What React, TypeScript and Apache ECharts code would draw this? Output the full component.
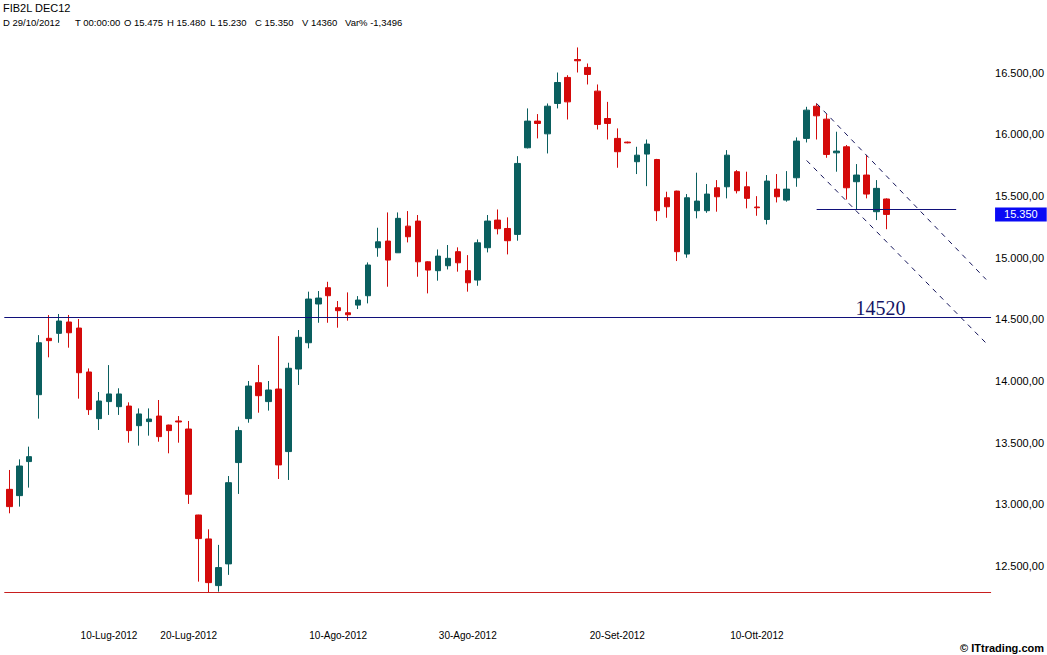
import React, { useEffect, useRef } from 'react';
import * as echarts from 'echarts';

const categories = [
  '26-Giu-2012', '27-Giu-2012', '28-Giu-2012', '29-Giu-2012',
  '02-Lug-2012', '03-Lug-2012', '04-Lug-2012', '05-Lug-2012', '06-Lug-2012',
  '09-Lug-2012', '10-Lug-2012', '11-Lug-2012', '12-Lug-2012', '13-Lug-2012',
  '16-Lug-2012', '17-Lug-2012', '18-Lug-2012', '19-Lug-2012', '20-Lug-2012',
  '23-Lug-2012', '24-Lug-2012', '25-Lug-2012', '26-Lug-2012', '27-Lug-2012',
  '30-Lug-2012', '31-Lug-2012', '01-Ago-2012', '02-Ago-2012', '03-Ago-2012',
  '06-Ago-2012', '07-Ago-2012', '08-Ago-2012', '09-Ago-2012', '10-Ago-2012',
  '13-Ago-2012', '14-Ago-2012', '16-Ago-2012', '17-Ago-2012',
  '20-Ago-2012', '21-Ago-2012', '22-Ago-2012', '23-Ago-2012', '24-Ago-2012',
  '27-Ago-2012', '28-Ago-2012', '29-Ago-2012', '30-Ago-2012', '31-Ago-2012',
  '03-Set-2012', '04-Set-2012', '05-Set-2012', '06-Set-2012', '07-Set-2012',
  '10-Set-2012', '11-Set-2012', '12-Set-2012', '13-Set-2012', '14-Set-2012',
  '17-Set-2012', '18-Set-2012', '19-Set-2012', '20-Set-2012', '21-Set-2012',
  '24-Set-2012', '25-Set-2012', '26-Set-2012', '27-Set-2012', '28-Set-2012',
  '01-Ott-2012', '02-Ott-2012', '03-Ott-2012', '04-Ott-2012', '05-Ott-2012',
  '08-Ott-2012', '09-Ott-2012', '10-Ott-2012', '11-Ott-2012', '12-Ott-2012',
  '15-Ott-2012', '16-Ott-2012', '17-Ott-2012', '18-Ott-2012', '19-Ott-2012',
  '22-Ott-2012', '23-Ott-2012', '24-Ott-2012', '25-Ott-2012', '26-Ott-2012',
  '29-Ott-2012',
  // future sessions (empty space on the right of the chart)
  '30-Ott-2012', '31-Ott-2012', '01-Nov-2012', '02-Nov-2012', '05-Nov-2012',
  '06-Nov-2012', '07-Nov-2012', '08-Nov-2012', '09-Nov-2012', '12-Nov-2012',
];

const opens = [
  13122, 13071, 13347, 13889, 14346, 14386, 14478, 14429, 14073, 13695,
  13833, 13792, 13797, 13638, 13671, 13716, 13643, 13676, 13611, 12914,
  12720, 12342, 12518, 13339, 13695, 13986, 13833, 13935, 13428, 14097,
  14310, 14624, 14756, 14594, 14553, 14615, 14691, 15080, 15134, 15039,
  15255, 15296, 14966, 14894, 14934, 15048, 14894, 14818, 15080, 15304,
  15236, 15188, 15890, 16106, 16003, 16249, 16460, 16605, 16541, 16349,
  16127, 15966, 15936, 15777, 15839, 15795, 15485, 15539, 15029, 15380,
  15380, 15566, 15574, 15696, 15574, 15410, 15309, 15555, 15466, 15647,
  15966, 16227, 16122, 15849, 15898, 15615, 15669, 15372, 15475,
];
const highs = [
  13279, 13365, 13468, 14372, 14534, 14543, 14535, 14502, 14102, 13911,
  14129, 13941, 13827, 13778, 13778, 13846, 13646, 13716, 13676, 12916,
  12798, 12672, 13230, 13630, 14000, 14130, 14000, 14364, 14148, 14413,
  14724, 14729, 14804, 14648, 14718, 14688, 14961, 15242, 15366, 15366,
  15377, 15345, 14970, 15066, 15102, 15083, 15020, 15147, 15345, 15390,
  15326, 15822, 16209, 16163, 16249, 16500, 16478, 16703, 16573, 16403,
  16262, 16047, 15940, 15898, 15957, 15800, 15534, 15542, 15515, 15688,
  15596, 15628, 15871, 15709, 15696, 15498, 15669, 15677, 15701, 15974,
  16222, 16249, 16163, 16020, 15912, 15758, 15831, 15628, 15480,
];
const lows = [
  12928, 12982, 13136, 13695, 14192, 14310, 14270, 13857, 13725, 13603,
  13725, 13725, 13500, 13476, 13557, 13508, 13414, 13500, 13004, 12374,
  12288, 12293, 12429, 13085, 13662, 13743, 13760, 13206, 13198, 13968,
  14265, 14472, 14472, 14432, 14489, 14583, 14629, 15007, 14764, 15039,
  15123, 14845, 14710, 14813, 14904, 14886, 14724, 14772, 15042, 15188,
  15026, 15137, 15885, 15966, 15844, 16209, 16119, 16500, 16403, 16038,
  15957, 15728, 15926, 15677, 15579, 15296, 15323, 14972, 14999, 15318,
  15363, 15372, 15480, 15520, 15399, 15339, 15269, 15447, 15453, 15574,
  15933, 15957, 15809, 15696, 15471, 15393, 15480, 15304, 15230,
];
const closes = [
  12982, 13311, 13387, 14310, 14327, 14486, 14391, 14067, 13768, 13838,
  13895, 13895, 13598, 13733, 13692, 13549, 13598, 13668, 13082, 12723,
  12366, 12488, 13176, 13598, 13959, 13881, 13927, 13320, 14103, 14354,
  14664, 14672, 14691, 14570, 14537, 14656, 14940, 15128, 14980, 15318,
  15169, 14966, 14899, 15012, 14994, 14958, 14796, 15120, 15296, 15234,
  15137, 15763, 16106, 16087, 16227, 16419, 16262, 16595, 16484, 16079,
  16087, 15858, 15930, 15830, 15920, 15380, 15412, 15048, 15485, 15458,
  15515, 15493, 15830, 15542, 15480, 15404, 15620, 15493, 15555, 15944,
  16195, 16149, 15836, 15863, 15566, 15669, 15515, 15561, 15350,
];

const labeledDates = ['10-Lug-2012', '20-Lug-2012', '10-Ago-2012', '30-Ago-2012', '20-Set-2012', '10-Ott-2012'];

const resistanceLevel = 14520;
const supportLevel = 12288;
const lastClose = 15350;
const lastCloseLabel = '15.350';
const shortSupport = { from: 81, to: 95, value: 15393 };
const channelUpper = [[81, 16249], [98, 14823]];
const channelLower = [[80, 15787], [98, 14307]];
const annotation = { index: 87, value: 14520, text: '14520' };

const headerTitle = 'FIB2L DEC12';
const headerFields = ['D 29/10/2012', 'T 00:00:00', 'O 15.475', 'H 15.480', 'L 15.230', 'C 15.350', 'V 14360', 'Var% -1,3496'];
const headerX = [3, 75, 124, 167, 210, 255, 302, 345];

const UP = '#0a5f5f';
const DOWN = '#d40a0a';
const NAVY = '#10107a';

function fmtIt(v: number): string {
  const s = Math.round(v).toString().replace(/\B(?=(\d{3})+(?!\d))/g, '.');
  return s + ',00';
}

export default function App() {
  const ref = useRef<HTMLDivElement>(null);
  useEffect(() => {
    if (!ref.current) return;
    const chart = echarts.init(ref.current, null, { renderer: 'svg' });
    const candleData = opens.map((o, i) => [o, closes[i], lows[i], highs[i]]);
    const font = 'Liberation Sans';
    const graphics: any[] = [
      {
        type: 'text', x: 3, y: 8,
        style: { text: headerTitle, fontSize: 11, fontFamily: font, fill: '#000', align: 'left', verticalAlign: 'middle' },
      },
      ...headerFields.map((t, i) => ({
        type: 'text', x: headerX[i], y: 22,
        style: { text: t, fontSize: 9.5, fontFamily: font, fill: '#000', align: 'left', verticalAlign: 'middle' },
      })),
      {
        type: 'text', x: 1044, y: 648,
        style: { text: '© ITtrading.com', fontSize: 11, fontWeight: 'bold', fontFamily: font, fill: '#000', align: 'right', verticalAlign: 'middle' },
      },
    ];
    chart.setOption({
      animation: false,
      backgroundColor: '#ffffff',
      grid: { left: 4.3, right: 55.7, top: 10.8, bottom: 27.2, containLabel: false },
      xAxis: {
        type: 'category',
        data: categories,
        boundaryGap: true,
        axisLine: { show: false },
        axisTick: { show: false },
        splitLine: { show: false },
        axisLabel: {
          interval: (idx: number, val: string) => labeledDates.indexOf(val) >= 0,
          fontSize: 10,
          fontFamily: font,
          color: '#000',
          margin: 3,
        },
      },
      yAxis: {
        type: 'value',
        position: 'right',
        min: 12000,
        max: 17000,
        interval: 500,
        axisLine: { show: false },
        axisTick: { show: false },
        splitLine: { show: false },
        axisLabel: {
          showMinLabel: false,
          showMaxLabel: false,
          formatter: (v: number) => (v <= 12000 || v >= 17000 ? '' : fmtIt(v)),
          fontSize: 11,
          fontFamily: font,
          color: '#000',
          margin: 4,
        },
      },
      graphic: graphics,
      series: [
        {
          type: 'candlestick',
          data: candleData,
          barWidth: 6,
          itemStyle: { color: UP, color0: DOWN, borderColor: UP, borderColor0: DOWN, borderWidth: 1 },
          markLine: {
            silent: true,
            symbol: ['none', 'none'],
            animation: false,
            label: { show: false },
            data: [
              { yAxis: resistanceLevel, lineStyle: { color: NAVY, width: 1, type: 'solid' } },
              { yAxis: supportLevel, lineStyle: { color: '#c81e1e', width: 1, type: 'solid' } },
              [
                { coord: [categories[shortSupport.from], shortSupport.value], lineStyle: { color: NAVY, width: 1, type: 'solid' } },
                { coord: [categories[shortSupport.to], shortSupport.value] },
              ],
              [
                { coord: [categories[channelUpper[0][0]], channelUpper[0][1]], lineStyle: { color: '#14145a', width: 1, type: [5, 5] } },
                { coord: [categories[channelUpper[1][0]], channelUpper[1][1]] },
              ],
              [
                { coord: [categories[channelLower[0][0]], channelLower[0][1]], lineStyle: { color: '#14145a', width: 1, type: [5, 5] } },
                { coord: [categories[channelLower[1][0]], channelLower[1][1]] },
              ],
              {
                yAxis: lastClose,
                lineStyle: { color: 'rgba(0,0,0,0)', width: 1, type: 'solid' },
                label: {
                  show: true,
                  position: 'end',
                  distance: 4,
                  formatter: lastCloseLabel,
                  color: '#ffffff',
                  backgroundColor: '#0a0af5',
                  padding: [2, 9, 1, 9],
                  fontSize: 11,
                  fontFamily: font,
                },
              },
            ],
          },
          markPoint: {
            silent: true,
            animation: false,
            data: [
              {
                coord: [categories[annotation.index], annotation.value],
                symbol: 'circle',
                symbolSize: 1,
                itemStyle: { color: 'rgba(0,0,0,0)' },
                label: {
                  show: true,
                  position: 'inside',
                  offset: [4, -8.5],
                  formatter: annotation.text,
                  fontFamily: 'Liberation Serif',
                  fontSize: 20,
                  color: '#141464',
                },
              },
            ],
          },
        },
      ],
    });
    return () => chart.dispose();
  }, []);
  return <div ref={ref} style={{ position: 'absolute', left: 0, top: 0, width: 1047, height: 655 }} />;
}
